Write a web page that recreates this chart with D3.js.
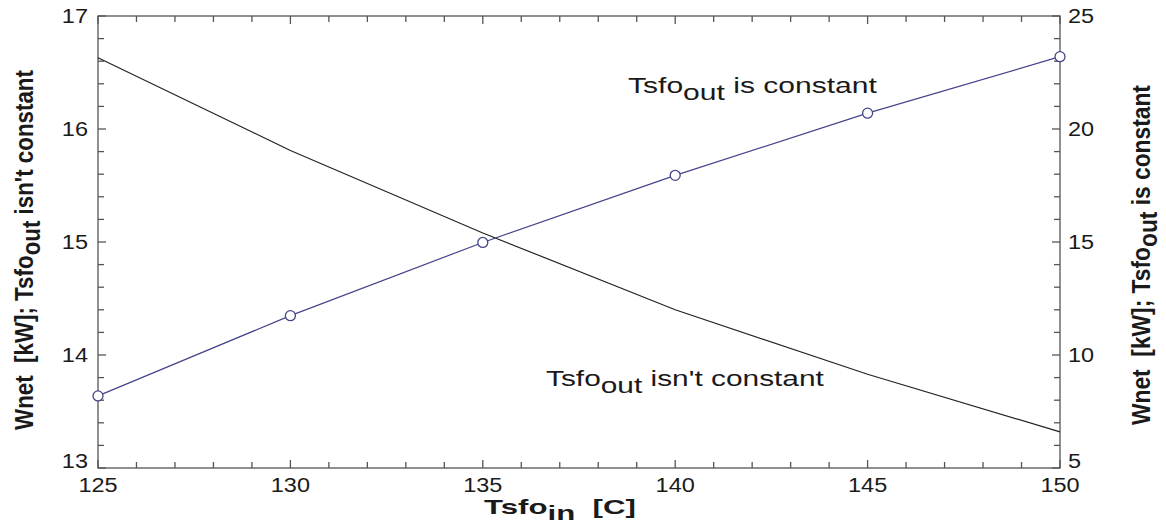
<!DOCTYPE html>
<html>
  <script src="https://d3js.org/d3.v7.min.js" type="text/JavaScript"></script>
  <style>
    body { margin: 0; background: #fff; }
    text { font-family: "Liberation Sans", Arial, sans-serif; white-space: pre; }
  </style>
  <body>
    <svg></svg>
    <script>
// Tsfo_in values
var tsfoIn = [125, 130, 135, 140, 145, 150];
// Wnet when Tsfo_out isn't constant (left axis)
var wnetVaried = [16.63, 15.81, 15.08, 14.4, 13.83, 13.32];
// Wnet when Tsfo_out is constant (right axis)
var wnetConst = [8.19, 11.74, 14.98, 17.95, 20.7, 23.2];

var xTicks = [125, 130, 135, 140, 145, 150];
var leftTicks = [13, 14, 15, 16, 17];
var rightTicks = [5, 10, 15, 20, 25];

var W = 1166, H = 526;
var m = {left: 98, right: 106, top: 16, bottom: 58};
var axisCol = '#555';
var txtCol = '#1a1a1a';
var blue = '#44448a';

var svg = d3.select('svg').attr('width', W).attr('height', H);

var x = d3.scaleLinear().domain([125, 150]).range([m.left, W - m.right]);
var yL = d3.scaleLinear().domain([13, 17]).range([H - m.bottom, m.top]);
var yR = d3.scaleLinear().domain([5, 25]).range([H - m.bottom, m.top]);

// frame
svg.append('rect')
  .attr('x', m.left).attr('y', m.top)
  .attr('width', W - m.left - m.right).attr('height', H - m.top - m.bottom)
  .attr('fill', 'none').attr('stroke', axisCol).attr('stroke-width', 1.3);

// inward ticks
function ticks(vals, isMajor, fn) {
  vals.forEach(v => {
    var len = isMajor(v) ? 8 : 6;
    var p = fn(v, len);
    svg.append('line')
      .attr('x1', p[0]).attr('y1', p[1]).attr('x2', p[2]).attr('y2', p[3])
      .attr('stroke', axisCol).attr('stroke-width', 1.3);
  });
}
var xMinor = d3.range(125, 151, 1);
ticks(xMinor, v => v % 5 === 0, (v, l) => [x(v), H - m.bottom, x(v), H - m.bottom - l]);
ticks(xMinor, v => v % 5 === 0, (v, l) => [x(v), m.top, x(v), m.top + l]);
var lMinor = d3.range(0, 21).map(i => 13 + i * 0.2);
ticks(lMinor, v => Math.abs(v - Math.round(v)) < 1e-6, (v, l) => [m.left, yL(v), m.left + l, yL(v)]);
var rMinor = d3.range(5, 26, 1);
ticks(rMinor, v => v % 5 === 0, (v, l) => [W - m.right, yR(v), W - m.right - l, yR(v)]);

// text placed at (tx,ty), stretched horizontally by sx, optionally rotated
function label(tx, ty, opts) {
  var g = svg.append('g');
  var t = g.append('text')
    .attr('font-size', opts.size).attr('fill', txtCol)
    .attr('text-anchor', opts.anchor || 'start');
  if (opts.bold) t.attr('font-weight', 'bold');
  opts.parts.forEach(p => {
    var s = t.append('tspan').text(p.t);
    if (p.dy) s.attr('dy', p.dy);
  });
  var sx = opts.sx || 1;
  if (opts.width) sx = opts.width / t.node().getComputedTextLength();
  g.attr('transform', 'translate(' + tx + ',' + ty + ')' + (opts.rot ? ' rotate(' + opts.rot + ')' : '') + ' scale(' + sx + ',1)');
  return g;
}

// tick labels
xTicks.forEach(d => label(x(d), H - m.bottom + 24, {size: 21, sx: 1.12, anchor: 'middle', parts: [{t: String(d)}]}));
leftTicks.forEach(d => label(m.left - 10, yL(d) + (d === 13 ? 0 : 7), {size: 21, sx: 1.12, anchor: 'end', parts: [{t: String(d)}]}));
rightTicks.forEach(d => label(W - m.right + 8, yR(d) + (d === 5 ? 0 : 7), {size: 21, sx: 1.12, anchor: 'start', parts: [{t: String(d)}]}));

// series
var lineL = d3.line().x((d, i) => x(tsfoIn[i])).y(d => yL(d));
var lineR = d3.line().x((d, i) => x(tsfoIn[i])).y(d => yR(d));

svg.append('path').datum(wnetVaried).attr('d', lineL)
  .attr('fill', 'none').attr('stroke', '#222').attr('stroke-width', 1.2);
svg.append('path').datum(wnetConst).attr('d', lineR)
  .attr('fill', 'none').attr('stroke', blue).attr('stroke-width', 1.2);
svg.selectAll('.pt').data(wnetConst).enter().append('circle')
  .attr('cx', (d, i) => x(tsfoIn[i])).attr('cy', d => yR(d)).attr('r', 5)
  .attr('fill', '#fff').attr('stroke', blue).attr('stroke-width', 1.3);

// annotations
label(628, 93, {size: 22, width: 249, parts: [{t: 'Tsfo'}, {t: 'out', dy: 7}, {t: ' is constant', dy: -7}]});
label(546, 386, {size: 22, width: 278, parts: [{t: 'Tsfo'}, {t: 'out', dy: 7}, {t: " isn't constant", dy: -7}]});

// axis titles
label(33, 250, {size: 26, bold: true, rot: -90, anchor: 'middle', width: 360,
  parts: [{t: 'Wnet  [kW]; Tsfo'}, {t: 'out', dy: 7}, {t: " isn't constant", dy: -7}]});
label(1150, 255, {size: 26, bold: true, rot: -90, anchor: 'middle', width: 340,
  parts: [{t: 'Wnet  [kW]; Tsfo'}, {t: 'out', dy: 7}, {t: ' is constant', dy: -7}]});
label(484, 514, {size: 21, bold: true, width: 152,
  parts: [{t: 'Tsfo'}, {t: 'in', dy: 6}, {t: '  [C]', dy: -6}]});
    </script>
  </body>
</html>
